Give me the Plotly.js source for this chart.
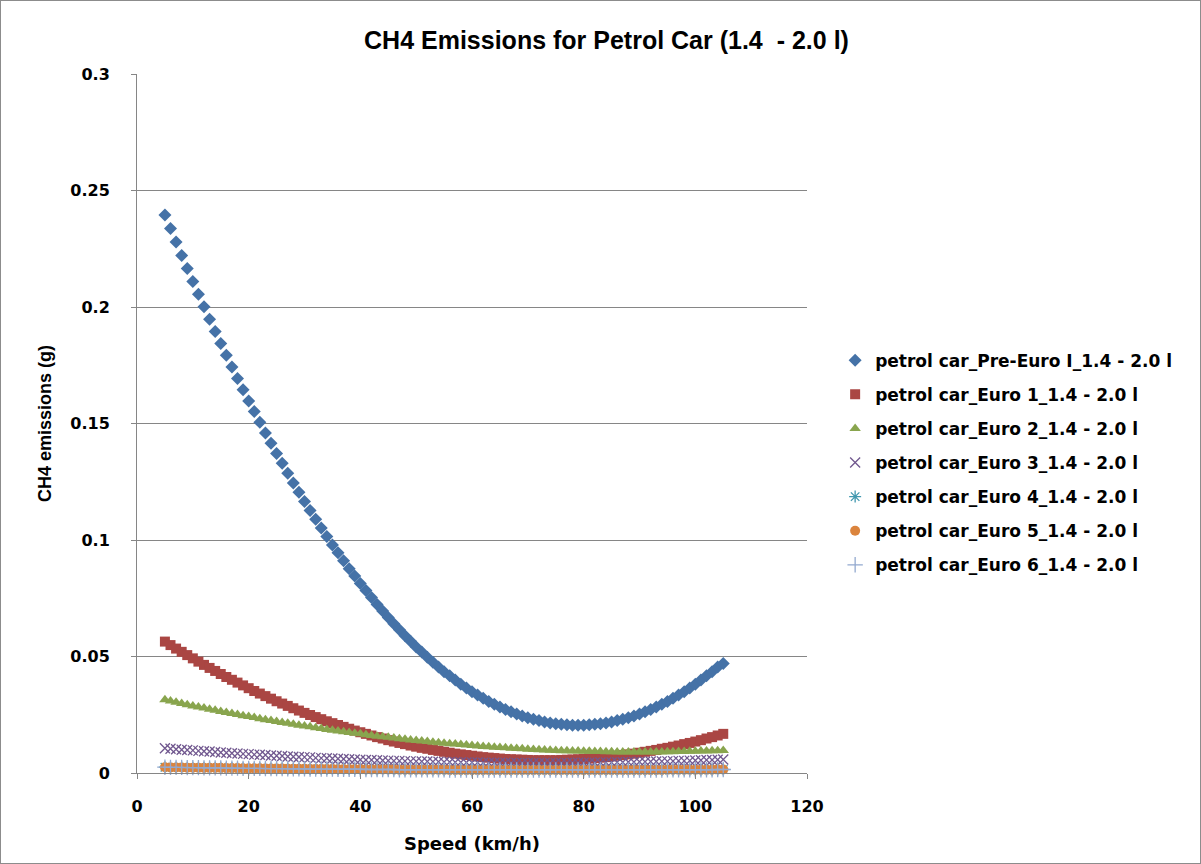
<!DOCTYPE html>
<html>
<head>
<meta charset="utf-8">
<script src="https://cdn.plot.ly/plotly-3.0.1.min.js"></script>
<style>
html,body{margin:0;padding:0;background:#fff;}
#wrap{width:1201px;height:864px;box-sizing:border-box;border:1px solid #8c8c8c;}
#chart{width:1199px;height:862px;}
</style>
</head>
<body>
<div id="wrap"><div id="chart"></div></div>
<script>
const speed = [5,6,7,8,9,10,11,12,13,14,15,16,17,18,19,20,21,22,23,24,25,26,27,28,29,30,31,32,33,34,35,36,37,38,39,40,41,42,43,44,45,46,47,48,49,50,51,52,53,54,55,56,57,58,59,60,61,62,63,64,65,66,67,68,69,70,71,72,73,74,75,76,77,78,79,80,81,82,83,84,85,86,87,88,89,90,91,92,93,94,95,96,97,98,99,100,101,102,103,104,105];

const preEuro = [0.2395,0.2337,0.2279,0.2221,0.2165,0.2109,0.2055,0.2001,0.1947,0.1895,
0.1843,0.1793,0.1743,0.1693,0.1645,0.1597,0.1551,0.1505,0.1459,0.1415,
0.1371,0.1329,0.1287,0.1245,0.1205,0.1165,0.1127,0.1089,0.1051,0.1015,
0.0979,0.0945,0.0911,0.0877,0.0845,0.0813,0.0783,0.0753,0.0723,0.0695,
0.0667,0.0641,0.0615,0.0589,0.0565,0.0541,0.0519,0.0497,0.0475,0.0455,
0.0435,0.0417,0.0399,0.0381,0.0365,0.0349,0.0335,0.0321,0.0307,0.0295,
0.0283,0.0273,0.0263,0.0253,0.0245,0.0237,0.0231,0.0225,0.0219,0.0215,
0.0211,0.0209,0.0207,0.0205,0.0205,0.0205,0.0207,0.0209,0.0211,0.0215,
0.0219,0.0225,0.0231,0.0237,0.0245,0.0253,0.0263,0.0273,0.0283,0.0295,
0.0307,0.0321,0.0335,0.0349,0.0365,0.0381,0.0399,0.0417,0.0435,0.0455,
0.0470];

const euro1 = [0.0564,0.0549,0.0534,0.0520,0.0506,0.0492,0.0478,0.0464,0.0451,0.0438,
0.0425,0.0412,0.0400,0.0388,0.0376,0.0364,0.0352,0.0341,0.0330,0.0319,
0.0308,0.0298,0.0288,0.0278,0.0268,0.0258,0.0249,0.0240,0.0231,0.0222,
0.0214,0.0206,0.0198,0.0190,0.0182,0.0175,0.0168,0.0161,0.0154,0.0148,
0.0141,0.0135,0.0129,0.0124,0.0118,0.0113,0.0108,0.0104,0.0099,0.0095,
0.0091,0.0087,0.0083,0.0080,0.0077,0.0074,0.0071,0.0068,0.0066,0.0064,
0.0062,0.0060,0.0059,0.0058,0.0057,0.0056,0.0055,0.0055,0.0055,0.0055,
0.0055,0.0056,0.0057,0.0058,0.0059,0.0060,0.0062,0.0064,0.0066,0.0068,
0.0071,0.0074,0.0077,0.0080,0.0083,0.0087,0.0091,0.0095,0.0099,0.0104,
0.0108,0.0113,0.0118,0.0124,0.0129,0.0135,0.0141,0.0148,0.0154,0.0161,
0.0168];

const euro2 = [0.0314,0.0309,0.0304,0.0298,0.0293,0.0288,0.0283,0.0279,0.0274,0.0269,
0.0264,0.0260,0.0255,0.0251,0.0246,0.0242,0.0238,0.0233,0.0229,0.0225,
0.0221,0.0217,0.0213,0.0209,0.0205,0.0202,0.0198,0.0194,0.0191,0.0187,
0.0184,0.0180,0.0177,0.0174,0.0171,0.0168,0.0164,0.0161,0.0158,0.0156,
0.0153,0.0150,0.0147,0.0145,0.0142,0.0140,0.0137,0.0135,0.0132,0.0130,
0.0128,0.0126,0.0124,0.0122,0.0120,0.0118,0.0116,0.0114,0.0113,0.0111,
0.0109,0.0108,0.0106,0.0105,0.0104,0.0102,0.0101,0.0100,0.0099,0.0098,
0.0097,0.0096,0.0095,0.0094,0.0094,0.0093,0.0093,0.0092,0.0092,0.0091,
0.0091,0.0090,0.0090,0.0090,0.0090,0.0090,0.0090,0.0090,0.0090,0.0090,
0.0091,0.0091,0.0092,0.0092,0.0093,0.0093,0.0094,0.0094,0.0095,0.0096,
0.0097];

const euro3 = [0.0106,0.0104,0.0102,0.0100,0.0099,0.0097,0.0095,0.0093,0.0092,0.0090,
0.0088,0.0087,0.0085,0.0084,0.0082,0.0081,0.0079,0.0078,0.0077,0.0075,
0.0074,0.0073,0.0071,0.0070,0.0069,0.0068,0.0067,0.0065,0.0064,0.0063,
0.0062,0.0061,0.0060,0.0059,0.0058,0.0057,0.0056,0.0056,0.0055,0.0054,
0.0053,0.0052,0.0052,0.0051,0.0050,0.0050,0.0049,0.0049,0.0048,0.0048,
0.0047,0.0047,0.0046,0.0046,0.0045,0.0045,0.0045,0.0044,0.0044,0.0044,
0.0044,0.0044,0.0043,0.0043,0.0043,0.0043,0.0043,0.0043,0.0043,0.0043,
0.0043,0.0043,0.0043,0.0044,0.0044,0.0044,0.0044,0.0044,0.0045,0.0045,
0.0045,0.0046,0.0046,0.0047,0.0047,0.0048,0.0048,0.0049,0.0049,0.0050,
0.0050,0.0051,0.0052,0.0052,0.0053,0.0054,0.0055,0.0056,0.0056,0.0057,
0.0058];

const euro4 = [0.0025,0.0024,0.0024,0.0024,0.0023,0.0023,0.0023,0.0022,0.0022,0.0022,
0.0022,0.0021,0.0021,0.0021,0.0020,0.0020,0.0020,0.0020,0.0019,0.0019,
0.0019,0.0019,0.0018,0.0018,0.0018,0.0018,0.0017,0.0017,0.0017,0.0017,
0.0017,0.0016,0.0016,0.0016,0.0016,0.0016,0.0015,0.0015,0.0015,0.0015,
0.0015,0.0015,0.0014,0.0014,0.0014,0.0014,0.0014,0.0014,0.0014,0.0014,
0.0014,0.0013,0.0013,0.0013,0.0013,0.0013,0.0013,0.0013,0.0013,0.0013,
0.0013,0.0013,0.0013,0.0013,0.0013,0.0013,0.0013,0.0013,0.0013,0.0013,
0.0013,0.0013,0.0013,0.0013,0.0013,0.0013,0.0013,0.0013,0.0013,0.0013,
0.0013,0.0013,0.0013,0.0013,0.0013,0.0013,0.0013,0.0013,0.0013,0.0013,
0.0014,0.0014,0.0014,0.0014,0.0014,0.0014,0.0014,0.0014,0.0014,0.0015,
0.0015];

const euro5 = [0.0025,0.0024,0.0024,0.0024,0.0023,0.0023,0.0023,0.0022,0.0022,0.0022,
0.0022,0.0021,0.0021,0.0021,0.0020,0.0020,0.0020,0.0020,0.0019,0.0019,
0.0019,0.0019,0.0018,0.0018,0.0018,0.0018,0.0017,0.0017,0.0017,0.0017,
0.0017,0.0016,0.0016,0.0016,0.0016,0.0016,0.0015,0.0015,0.0015,0.0015,
0.0015,0.0015,0.0014,0.0014,0.0014,0.0014,0.0014,0.0014,0.0014,0.0014,
0.0014,0.0013,0.0013,0.0013,0.0013,0.0013,0.0013,0.0013,0.0013,0.0013,
0.0013,0.0013,0.0013,0.0013,0.0013,0.0013,0.0013,0.0013,0.0013,0.0013,
0.0013,0.0013,0.0013,0.0013,0.0013,0.0013,0.0013,0.0013,0.0013,0.0013,
0.0013,0.0013,0.0013,0.0013,0.0013,0.0013,0.0013,0.0013,0.0013,0.0013,
0.0014,0.0014,0.0014,0.0014,0.0014,0.0014,0.0014,0.0014,0.0014,0.0015,
0.0015];

const euro6 = [0.0025,0.0024,0.0024,0.0024,0.0023,0.0023,0.0023,0.0022,0.0022,0.0022,
0.0022,0.0021,0.0021,0.0021,0.0020,0.0020,0.0020,0.0020,0.0019,0.0019,
0.0019,0.0019,0.0018,0.0018,0.0018,0.0018,0.0017,0.0017,0.0017,0.0017,
0.0017,0.0016,0.0016,0.0016,0.0016,0.0016,0.0015,0.0015,0.0015,0.0015,
0.0015,0.0015,0.0014,0.0014,0.0014,0.0014,0.0014,0.0014,0.0014,0.0014,
0.0014,0.0013,0.0013,0.0013,0.0013,0.0013,0.0013,0.0013,0.0013,0.0013,
0.0013,0.0013,0.0013,0.0013,0.0013,0.0013,0.0013,0.0013,0.0013,0.0013,
0.0013,0.0013,0.0013,0.0013,0.0013,0.0013,0.0013,0.0013,0.0013,0.0013,
0.0013,0.0013,0.0013,0.0013,0.0013,0.0013,0.0013,0.0013,0.0013,0.0013,
0.0014,0.0014,0.0014,0.0014,0.0014,0.0014,0.0014,0.0014,0.0014,0.0015,
0.0015];

const seriesNames = [
  'petrol car_Pre-Euro I_1.4 - 2.0 l',
  'petrol car_Euro 1_1.4 - 2.0 l',
  'petrol car_Euro 2_1.4 - 2.0 l',
  'petrol car_Euro 3_1.4 - 2.0 l',
  'petrol car_Euro 4_1.4 - 2.0 l',
  'petrol car_Euro 5_1.4 - 2.0 l',
  'petrol car_Euro 6_1.4 - 2.0 l'
];
const seriesValues = [preEuro, euro1, euro2, euro3, euro4, euro5, euro6];
const colors = ['#4572A7','#AA4643','#89A54E','#71588F','#4198AF','#DB843D','#93A9CF'];
const markerStyles = [
  {symbol:'diamond', size:10, line:{width:0}},
  {symbol:'square', size:10, line:{width:0}},
  {symbol:'triangle-up', size:10, line:{width:0}},
  {symbol:'x-thin-open', size:10, line:{width:1.3}},
  {symbol:'asterisk-open', size:10, line:{width:1.3}},
  {symbol:'circle', size:10, line:{width:0}},
  {symbol:'cross-thin-open', size:11, line:{width:1.3}}
];

const traces = seriesValues.map((vals, i) => {
  const m = Object.assign({color: colors[i]}, markerStyles[i]);
  m.line = Object.assign({color: colors[i]}, markerStyles[i].line);
  return {
    type: 'scatter', mode: 'markers',
    x: speed, y: vals, name: seriesNames[i],
    legendgroup: 'g' + i,
    marker: m,
    cliponaxis: false
  };
});

const layout = {
  width: 1199, height: 862,
  margin: {l: 136, r: 393, t: 73, b: 90, pad: 0},
  paper_bgcolor: '#ffffff', plot_bgcolor: '#ffffff',
  showlegend: true,
  title: {
    text: 'CH4 Emissions for Petrol Car (1.4  - 2.0 l)',
    font: {family: 'Liberation Sans, Arial, sans-serif', size: 25, color: '#000', weight: 'bold'},
    x: 0.505, xref: 'container', xanchor: 'center', y: 0.955, yref: 'container', yanchor: 'middle'
  },
  xaxis: {
    range: [0, 120], dtick: 20, tick0: 0,
    showgrid: false, zeroline: false,
    showline: true, linecolor: '#868686', linewidth: 1,
    ticks: 'outside', ticklen: 5, tickcolor: '#868686',
    ticklabelstandoff: 14,
    tickfont: {family: 'DejaVu Sans, sans-serif', size: 16, color: '#000', weight: 'bold'},
    title: {text: 'Speed (km/h)', standoff: 22,
      font: {family: 'DejaVu Sans, sans-serif', size: 18, color: '#000', weight: 'bold'}},
    fixedrange: true
  },
  yaxis: {
    range: [0, 0.3], dtick: 0.05, tick0: 0,
    showgrid: true, gridcolor: '#868686', gridwidth: 1,
    zeroline: false,
    showline: true, linecolor: '#868686', linewidth: 1,
    ticks: 'outside', ticklen: 5, tickcolor: '#868686',
    ticklabelstandoff: 18,
    tickformat: '~g',
    tickfont: {family: 'DejaVu Sans, sans-serif', size: 16, color: '#000', weight: 'bold'},
    title: {text: 'CH4 emissions (g)', standoff: 14,
      font: {family: 'Liberation Sans Narrow, Liberation Sans, sans-serif', size: 18, color: '#000', weight: 'bold'}},
    fixedrange: true
  },
  legend: {
    x: 1.042, xanchor: 'left', y: 0.444, yanchor: 'middle',
    traceorder: 'grouped', tracegroupgap: 9,
    font: {family: 'DejaVu Sans, sans-serif', size: 17, color: '#000', weight: 'bold'},
    bgcolor: 'rgba(0,0,0,0)', borderwidth: 0,
    itemclick: false, itemdoubleclick: false
  }
};

Plotly.newPlot('chart', traces, layout, {displayModeBar: false, staticPlot: true});
</script>
</body>
</html>
